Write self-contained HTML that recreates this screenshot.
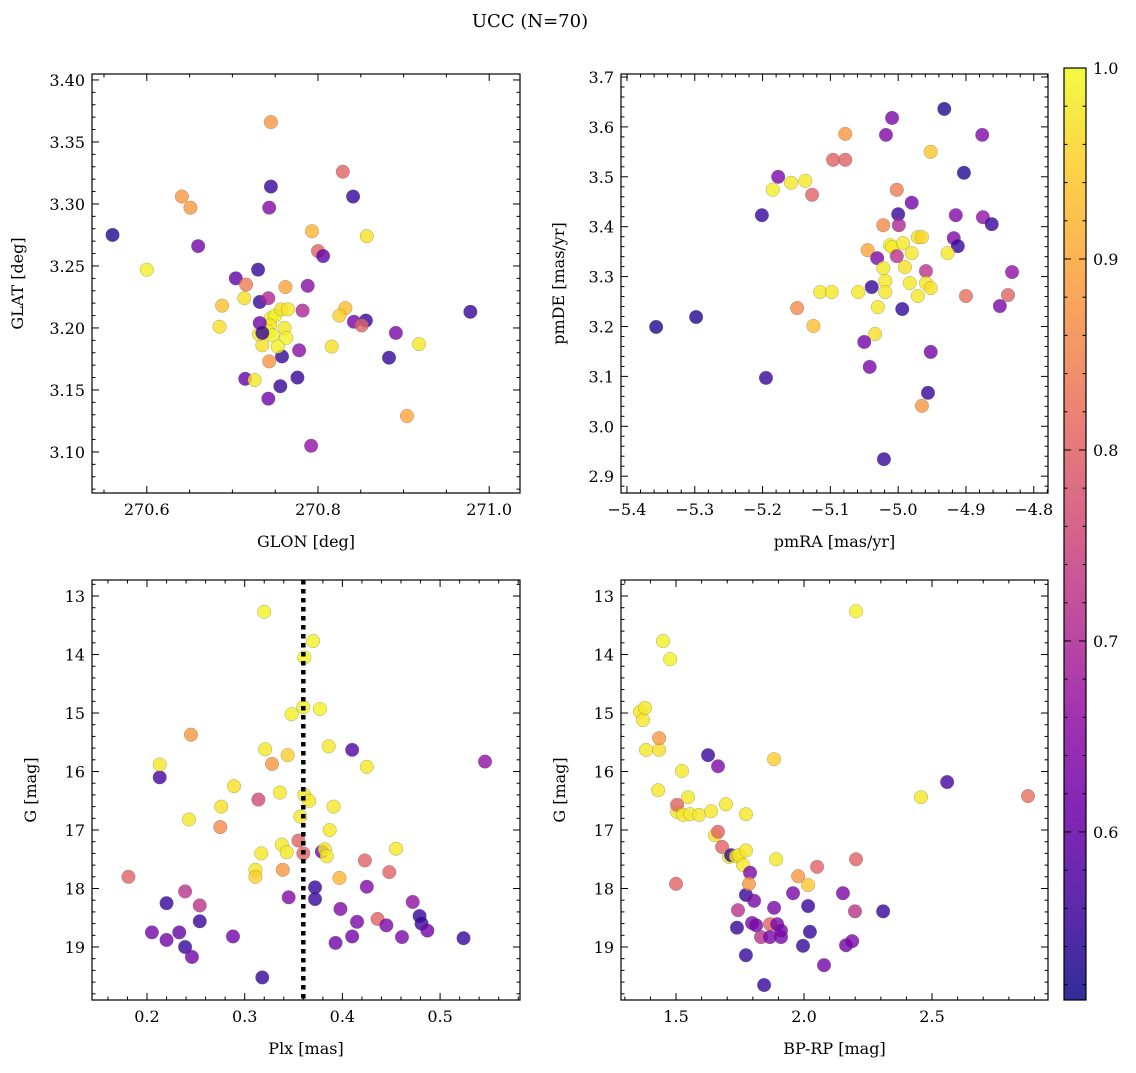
<!DOCTYPE html>
<html><head><meta charset="utf-8">
<style>
body{margin:0;background:#fff;}
svg text{font-family:"DejaVu Serif","Liberation Serif",serif;fill:#000;}
</style></head>
<body>
<svg id="chart" width="1136" height="1068" viewBox="0 0 1136 1068" xmlns="http://www.w3.org/2000/svg">
<text x="530" y="27" font-size="18" text-anchor="middle">UCC (N=70)</text>
</svg>
<script>
// ---- Panel 1: GLON vs GLAT
const p1Glon=[270.560,270.600,270.641,270.651,270.660,270.704,270.716,270.714,270.688,270.685,270.730,270.732,270.745,270.745,270.743,270.762,270.793,270.800,270.806,270.829,270.841,270.857,270.832,270.825,270.842,270.856,270.851,270.816,270.891,270.883,270.918,270.904,270.978,270.788,270.782,270.778,270.776,270.756,270.758,270.792,270.742,270.715,270.726,270.743,270.745,270.750,270.744,270.742,270.747,270.761,270.763,270.735,270.731,270.757,270.765,270.753,270.732,270.742,270.735];
const p1Glat=[3.275,3.247,3.306,3.297,3.266,3.240,3.235,3.224,3.218,3.201,3.247,3.221,3.366,3.314,3.297,3.233,3.278,3.262,3.258,3.326,3.306,3.274,3.216,3.210,3.205,3.206,3.202,3.185,3.196,3.176,3.187,3.129,3.213,3.234,3.214,3.182,3.160,3.153,3.177,3.105,3.143,3.159,3.158,3.173,3.208,3.210,3.202,3.197,3.194,3.200,3.192,3.186,3.195,3.215,3.215,3.185,3.204,3.224,3.196];
const p1Prob=[0.53,0.99,0.88,0.88,0.62,0.60,0.84,0.97,0.93,0.97,0.55,0.55,0.88,0.55,0.64,0.90,0.92,0.80,0.60,0.80,0.55,0.97,0.93,0.95,0.62,0.55,0.80,0.97,0.63,0.55,0.98,0.90,0.55,0.65,0.70,0.65,0.55,0.55,0.55,0.66,0.62,0.60,0.98,0.88,0.99,0.99,0.98,0.99,0.99,0.98,0.99,0.97,0.98,0.97,0.98,0.99,0.62,0.70,0.55];
// ---- Panel 2: pmRA vs pmDE
const p2Pmra=[-5.357,-5.298,-5.195,-5.201,-5.177,-5.185,-5.158,-5.137,-5.127,-5.149,-5.125,-5.115,-5.098,-5.078,-5.096,-5.078,-5.018,-5.009,-4.932,-4.952,-4.903,-4.876,-5.002,-5.022,-5.000,-4.980,-4.915,-4.875,-4.862,-4.918,-4.912,-4.927,-4.971,-4.965,-4.999,-5.012,-5.009,-4.993,-5.045,-4.980,-4.990,-5.031,-5.022,-5.002,-4.983,-5.019,-5.019,-5.059,-5.039,-5.030,-5.034,-5.050,-5.042,-4.959,-4.959,-4.952,-4.971,-4.994,-4.952,-4.956,-4.965,-5.021,-4.900,-4.838,-4.832,-4.850];
const p2Pmde=[3.199,3.219,3.097,3.423,3.500,3.474,3.488,3.492,3.464,3.237,3.201,3.269,3.269,3.586,3.534,3.534,3.584,3.618,3.636,3.550,3.508,3.584,3.474,3.403,3.425,3.448,3.423,3.419,3.405,3.377,3.361,3.347,3.379,3.379,3.403,3.363,3.359,3.367,3.353,3.347,3.319,3.337,3.317,3.341,3.287,3.291,3.269,3.269,3.279,3.239,3.185,3.169,3.119,3.311,3.287,3.277,3.261,3.235,3.149,3.067,3.041,2.934,3.261,3.263,3.309,3.241];
const p2Prob=[0.53,0.53,0.55,0.55,0.63,0.99,0.98,0.98,0.80,0.86,0.93,0.98,0.98,0.88,0.80,0.80,0.64,0.63,0.53,0.94,0.53,0.64,0.84,0.86,0.55,0.62,0.64,0.66,0.55,0.64,0.55,0.98,0.97,0.96,0.70,0.99,0.98,0.98,0.90,0.98,0.97,0.63,0.98,0.72,0.98,0.98,0.98,0.98,0.55,0.98,0.97,0.62,0.63,0.72,0.98,0.97,0.98,0.55,0.62,0.55,0.88,0.55,0.82,0.80,0.66,0.63];
// ---- Panel 3: Plx vs G
const p3Plx=[0.213,0.213,0.181,0.205,0.220,0.220,0.233,0.239,0.239,0.246,0.254,0.254,0.243,0.245,0.276,0.275,0.289,0.288,0.314,0.317,0.311,0.311,0.320,0.321,0.328,0.318,0.336,0.338,0.343,0.339,0.344,0.345,0.348,0.355,0.357,0.360,0.361,0.361,0.360,0.370,0.366,0.377,0.372,0.372,0.379,0.382,0.384,0.386,0.387,0.391,0.397,0.398,0.393,0.410,0.410,0.415,0.425,0.425,0.423,0.436,0.445,0.448,0.455,0.461,0.472,0.479,0.481,0.487,0.524,0.546];
const p3G=[16.10,15.88,17.80,18.75,18.25,18.88,18.75,19.00,18.05,19.17,18.56,18.29,16.82,15.37,16.60,16.95,16.25,18.82,16.48,17.40,17.68,17.80,13.27,15.62,15.87,19.52,16.36,17.25,17.38,17.68,15.72,18.15,15.02,17.18,16.77,14.90,14.05,16.40,17.40,13.77,16.50,14.93,17.98,18.18,17.37,17.33,17.45,15.57,17.00,16.60,17.82,18.35,18.93,15.63,18.82,18.57,15.92,17.97,17.52,18.52,18.63,17.72,17.32,18.83,18.23,18.47,18.60,18.72,18.85,15.83];
const p3Prob=[0.57,0.98,0.80,0.62,0.55,0.62,0.60,0.55,0.72,0.62,0.55,0.72,0.98,0.88,0.97,0.86,0.97,0.62,0.76,0.98,0.98,0.95,0.99,0.98,0.88,0.55,0.98,0.98,0.98,0.88,0.95,0.64,0.99,0.80,0.98,0.99,0.99,0.98,0.80,0.99,0.98,0.99,0.55,0.55,0.62,0.98,0.98,0.98,0.98,0.98,0.92,0.64,0.62,0.58,0.62,0.63,0.98,0.64,0.80,0.80,0.63,0.80,0.98,0.63,0.66,0.55,0.55,0.62,0.55,0.66];
// ---- Panel 4: BP-RP vs G
const p4Color=[1.359,1.371,1.379,1.383,1.434,1.434,1.449,1.477,1.430,1.504,1.523,1.504,1.500,1.527,1.547,1.555,1.590,1.625,1.637,1.652,1.664,1.664,1.680,1.695,1.707,1.715,1.734,1.746,1.762,1.773,1.773,1.773,1.789,1.785,1.738,1.742,1.773,1.797,1.805,1.813,1.832,1.867,1.867,1.844,1.883,1.895,1.910,1.910,1.883,1.891,1.957,1.977,2.016,1.996,2.016,2.023,2.051,2.078,2.152,2.164,2.188,2.199,2.203,2.203,2.309,2.457,2.559,2.875];
const p4G=[14.98,15.12,14.91,15.63,15.63,15.43,13.77,14.08,16.32,16.69,15.99,16.57,17.92,16.74,16.44,16.73,16.74,15.72,16.68,17.09,15.91,17.03,17.29,16.56,17.46,17.43,17.45,17.43,17.60,16.73,17.35,18.11,17.73,17.92,18.67,18.37,19.14,18.59,18.21,18.63,18.83,18.61,18.83,19.65,18.33,18.61,18.83,18.72,15.79,17.50,18.08,17.79,17.94,18.98,18.30,18.74,17.63,19.31,18.08,18.97,18.90,18.39,17.50,13.26,18.39,16.44,16.18,16.42];
const p4Prob=[0.98,0.98,0.98,0.98,0.97,0.88,0.99,0.99,0.98,0.98,0.98,0.80,0.80,0.98,0.98,0.98,0.98,0.55,0.98,0.98,0.64,0.80,0.80,0.98,0.98,0.55,0.98,0.98,0.98,0.98,0.98,0.55,0.63,0.88,0.55,0.72,0.55,0.63,0.63,0.63,0.72,0.80,0.63,0.55,0.63,0.63,0.63,0.63,0.95,0.98,0.63,0.88,0.94,0.55,0.55,0.55,0.80,0.62,0.63,0.62,0.63,0.72,0.80,0.99,0.55,0.98,0.57,0.82];
const plxLine=0.36;
const cbMin=0.512, cbMax=1.0;
const cbTicks=[0.6,0.7,0.8,0.9,1.0];

const NS='http://www.w3.org/2000/svg';
const svg=document.getElementById('chart');
function mk(tag,attrs,parent){const e=document.createElementNS(NS,tag);for(const k in attrs)e.setAttribute(k,attrs[k]);(parent||svg).appendChild(e);return e;}
const plasma=[[13,8,135],[65,4,157],[106,0,168],[143,13,164],[177,42,144],[204,71,120],[225,100,98],[242,132,75],[252,166,54],[252,206,37],[240,249,33]];
function cmap(v){let t=(v-cbMin)/(cbMax-cbMin);t=Math.max(0,Math.min(1,t))*10;const i=Math.min(9,Math.floor(t)),f=t-i;const a=plasma[i],b=plasma[i+1];return 'rgb('+a.map((c,k)=>Math.round(c+(b[k]-c)*f)).join(',')+')';}
function fmt(v,d){let s=v.toFixed(d);if(s.startsWith('-'))s='\u2212'+s.slice(1);return s;}

function panel(cfg){
  const g=mk('g',{});
  
  
  const {x0,x1,y0,y1,xmin,xmax,ymin,ymax,invY}=cfg;
  const sx=v=>x0+(v-xmin)/(xmax-xmin)*(x1-x0);
  const sy=v=>invY? y0+(v-ymin)/(ymax-ymin)*(y1-y0) : y1-(v-ymin)/(ymax-ymin)*(y1-y0);
  for(let i=0;i<cfg.xs.length;i++){
    const c=mk('circle',{cx:sx(cfg.xs[i]),cy:sy(cfg.ys[i]),r:6.8,fill:cmap(cfg.cs[i]),'fill-opacity':0.8,stroke:'#555','stroke-width':0.4,'stroke-opacity':0.6},g);
    
    
  }
  if(cfg.vline!==undefined){
    const l=mk('line',{x1:sx(cfg.vline),x2:sx(cfg.vline),y1:y0,y2:y1,stroke:'#000','stroke-width':4.5,'stroke-dasharray':'4.5,4.5'},g);
    
    
  }
  const fr=mk('rect',{x:x0,y:y0,width:x1-x0,height:y1-y0,fill:'none',stroke:'#000','stroke-width':1.2},g);
  
  
  const eps=1e-9;
  const xm0=Math.ceil(xmin/cfg.xminor-eps);
  for(let k=xm0;k*cfg.xminor<=xmax+eps;k++){
    const v=k*cfg.xminor,X=sx(v);
    const major=Math.abs(v/cfg.xmajor-Math.round(v/cfg.xmajor))<1e-6;
    const L=major?7:3.5;
    mk('line',{x1:X,x2:X,y1:y1,y2:y1-L,stroke:'#000','stroke-width':1},g);
    mk('line',{x1:X,x2:X,y1:y0,y2:y0+L,stroke:'#000','stroke-width':1},g);
    if(major){const t=mk('text',{x:X,y:y1+22,'font-size':16,'text-anchor':'middle'},g);t.textContent=fmt(v,cfg.xdec);
      }
  }
  const ym0=Math.ceil(ymin/cfg.yminor-eps);
  for(let k=ym0;k*cfg.yminor<=ymax+eps;k++){
    const v=k*cfg.yminor,Y=sy(v);
    const major=Math.abs(v/cfg.ymajor-Math.round(v/cfg.ymajor))<1e-6;
    const L=major?7:3.5;
    mk('line',{x1:x0,x2:x0+L,y1:Y,y2:Y,stroke:'#000','stroke-width':1},g);
    mk('line',{x1:x1,x2:x1-L,y1:Y,y2:Y,stroke:'#000','stroke-width':1},g);
    if(major){const t=mk('text',{x:x0-7,y:Y+6,'font-size':16,'text-anchor':'end'},g);t.textContent=fmt(v,cfg.ydec);
      }
  }
  const xl=mk('text',{x:(x0+x1)/2,y:y1+54,'font-size':16,'text-anchor':'middle'},g);xl.textContent=cfg.xlabel;
  
  const yx=x0-cfg.ylOff, yc=(y0+y1)/2;
  const yl=mk('text',{x:yx,y:yc,'font-size':16,'text-anchor':'middle',transform:'rotate(-90 '+yx+' '+yc+')'},g);yl.textContent=cfg.ylabel;
  
}

panel({name:'glon-glat-panel',x0:92,x1:520,y0:74,y1:493,xmin:270.536,xmax:271.036,ymin:3.0669,ymax:3.4048,ylOff:69,
  xs:p1Glon,ys:p1Glat,cs:p1Prob,xmajor:0.2,xminor:0.05,ymajor:0.05,yminor:0.01,xdec:1,ydec:2,xlabel:'GLON [deg]',ylabel:'GLAT [deg]'});
panel({name:'pm-panel',x0:621,x1:1048,y0:74,y1:493,xmin:-5.4088,xmax:-4.779,ymin:2.8663,ymax:3.706,ylOff:57,
  xs:p2Pmra,ys:p2Pmde,cs:p2Prob,xmajor:0.1,xminor:0.02,ymajor:0.1,yminor:0.02,xdec:1,ydec:1,xlabel:'pmRA [mas/yr]',ylabel:'pmDE [mas/yr]'});
panel({name:'plx-g-panel',x0:92,x1:520,y0:580,y1:1000,xmin:0.1437,xmax:0.5818,ymin:12.726,ymax:19.906,invY:true,ylOff:56,
  xs:p3Plx,ys:p3G,cs:p3Prob,xmajor:0.1,xminor:0.02,ymajor:1,yminor:0.2,xdec:1,ydec:0,xlabel:'Plx [mas]',ylabel:'G [mag]',vline:plxLine});
panel({name:'cmd-panel',x0:621,x1:1048,y0:580,y1:1000,xmin:1.285,xmax:2.953,ymin:12.726,ymax:19.906,invY:true,ylOff:56,
  xs:p4Color,ys:p4G,cs:p4Prob,xmajor:0.5,xminor:0.1,ymajor:1,yminor:0.2,xdec:1,ydec:0,xlabel:'BP-RP [mag]',ylabel:'G [mag]'});

(function(){
  const cx0=1064,cx1=1086,cy0=68,cy1=1000;
  const g=mk('g',{});
  
  
  const defs=mk('defs',{},g);
  const lg=mk('linearGradient',{id:'cbg',x1:0,y1:1,x2:0,y2:0},defs);
  for(let i=0;i<=20;i++){const v=cbMin+(cbMax-cbMin)*i/20;mk('stop',{offset:(i/20),'stop-color':cmap(v),'stop-opacity':0.85},lg);}
  mk('rect',{x:cx0,y:cy0,width:cx1-cx0,height:cy1-cy0,fill:'url(#cbg)',stroke:'#000','stroke-width':1.2},g);
  const sy=v=>cy1-(v-cbMin)/(cbMax-cbMin)*(cy1-cy0);
  for(let k=Math.ceil(cbMin/0.02);k*0.02<=cbMax+1e-9;k++){
    const v=k*0.02,Y=sy(v);const major=Math.abs(v*10-Math.round(v*10))<1e-6;
    mk('line',{x1:cx1,x2:cx1-(major?7:3.5),y1:Y,y2:Y,stroke:'#000','stroke-width':1},g);
    mk('line',{x1:cx0,x2:cx0+(major?7:3.5),y1:Y,y2:Y,stroke:'#000','stroke-width':1},g);
  }
  cbTicks.forEach(v=>{const t=mk('text',{x:cx1+7,y:sy(v)+6,'font-size':16},g);t.textContent=v.toFixed(1);
    });
})();
</script>
</body></html>
